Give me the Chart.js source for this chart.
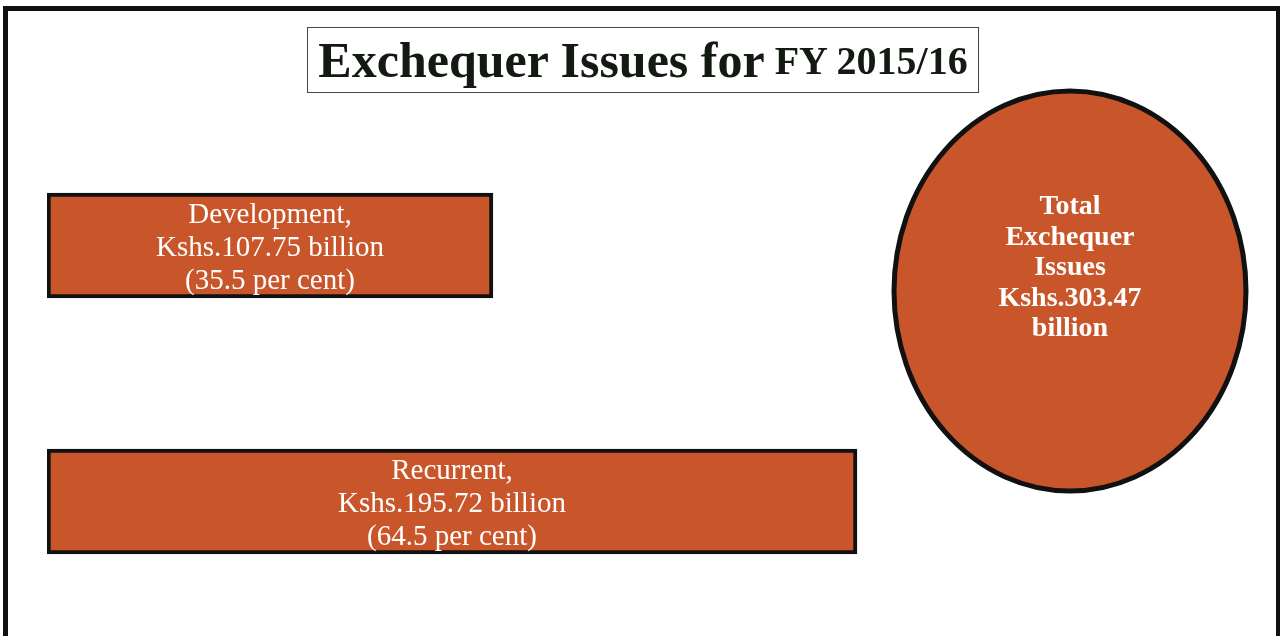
<!DOCTYPE html>
<html>
<head>
<meta charset="utf-8">
<script src="https://cdn.jsdelivr.net/npm/chart.js@4"></script>
<style>
  html, body { margin: 0; padding: 0; background: #fff; overflow: hidden; }
  #frame {
    position: absolute; left: 3px; top: 6px; width: 1268px; height: 700px;
    border: 5px solid #111;
  }
  #titulo {
    position: absolute; left: 307px; top: 27px; width: 670px; height: 64px;
    border: 1px solid #444; display: flex; align-items: center; justify-content: center;
    font-family: "Liberation Serif", "Times New Roman", serif; font-weight: bold;
    color: #131a12; white-space: nowrap; z-index: 2;
  }
  #titulo .a { font-size: 50px; }
  #titulo .b { font-size: 40px; margin-left: 10px; }
  #lienzo { position: absolute; left: 0; top: 0; z-index: 1; }
</style>
</head>
<body>
<div id="frame"></div>
<div id="titulo"><span class="a">Exchequer Issues for</span><span class="b">FY 2015/16</span></div>
<canvas id="lienzo" width="1280" height="636"></canvas>
<script>
// Datos
var categorias = ["Development", "Recurrent"];
var valores = [107.75, 195.72];      // Kshs. billion
var porcentajes = [35.5, 64.5];      // per cent

var colorBarra = "#c8562a";
var colorBorde = "#111111";

document.addEventListener("DOMContentLoaded", function() {
  var lienzo = document.getElementById("lienzo");

  // Texto dentro de cada barra
  var etiquetasBarras = {
    id: "etiquetasBarras",
    afterDatasetsDraw: function(chart) {
      var ctx = chart.ctx;
      var meta = chart.getDatasetMeta(0);
      ctx.save();
      ctx.fillStyle = "#fff";
      ctx.font = '29px "Liberation Serif"';
      ctx.textAlign = "center";
      ctx.textBaseline = "middle";
      meta.data.forEach(function(barra, i) {
        var lineas = [
          categorias[i] + ",",
          "Kshs." + valores[i].toFixed(2) + " billion",
          "(" + porcentajes[i] + " per cent)"
        ];
        var cx = (barra.base + barra.x) / 2;
        lineas.forEach(function(t, j) {
          ctx.fillText(t, cx, barra.y + 3 + (j - 1) * 33);
        });
      });
      ctx.restore();
    }
  };

  // Elipse con el total
  var elipseTotal = {
    id: "elipseTotal",
    afterDatasetsDraw: function(chart) {
      var ctx = chart.ctx;
      var total = valores.reduce(function(a, b) { return a + b; }, 0);
      var cx = 1070, cy = 291;
      ctx.save();
      ctx.beginPath();
      ctx.ellipse(cx, cy, 176, 200, 0, 0, Math.PI * 2);
      ctx.fillStyle = colorBarra;
      ctx.fill();
      ctx.lineWidth = 5;
      ctx.strokeStyle = colorBorde;
      ctx.stroke();
      ctx.fillStyle = "#fff";
      ctx.font = 'bold 28px "Liberation Serif"';
      ctx.textAlign = "center";
      ctx.textBaseline = "middle";
      var lineas = ["Total", "Exchequer", "Issues", "Kshs." + total.toFixed(2), "billion"];
      lineas.forEach(function(t, j) {
        ctx.fillText(t, cx, 207 + j * 30.5);
      });
      ctx.restore();
    }
  };

  new Chart(lienzo, {
    type: "bar",
    data: {
      labels: categorias,
      datasets: [
        {
          data: valores,
          backgroundColor: colorBarra,
          borderColor: colorBorde,
          borderWidth: 4,
          borderSkipped: false,
          barThickness: 105,
        },
      ],
    },
    options: {
      indexAxis: "y",
      responsive: false,
      animation: false,
      layout: { padding: { left: 47, right: 198.4, top: 117.5, bottom: 6.5 } },
      plugins: { legend: { display: false }, tooltip: { enabled: false } },
      scales: {
        x: { display: false, min: 0, max: 250 },
        y: { display: false },
      },
    },
    plugins: [etiquetasBarras, elipseTotal],
  });
});
</script>
</body>
</html>
